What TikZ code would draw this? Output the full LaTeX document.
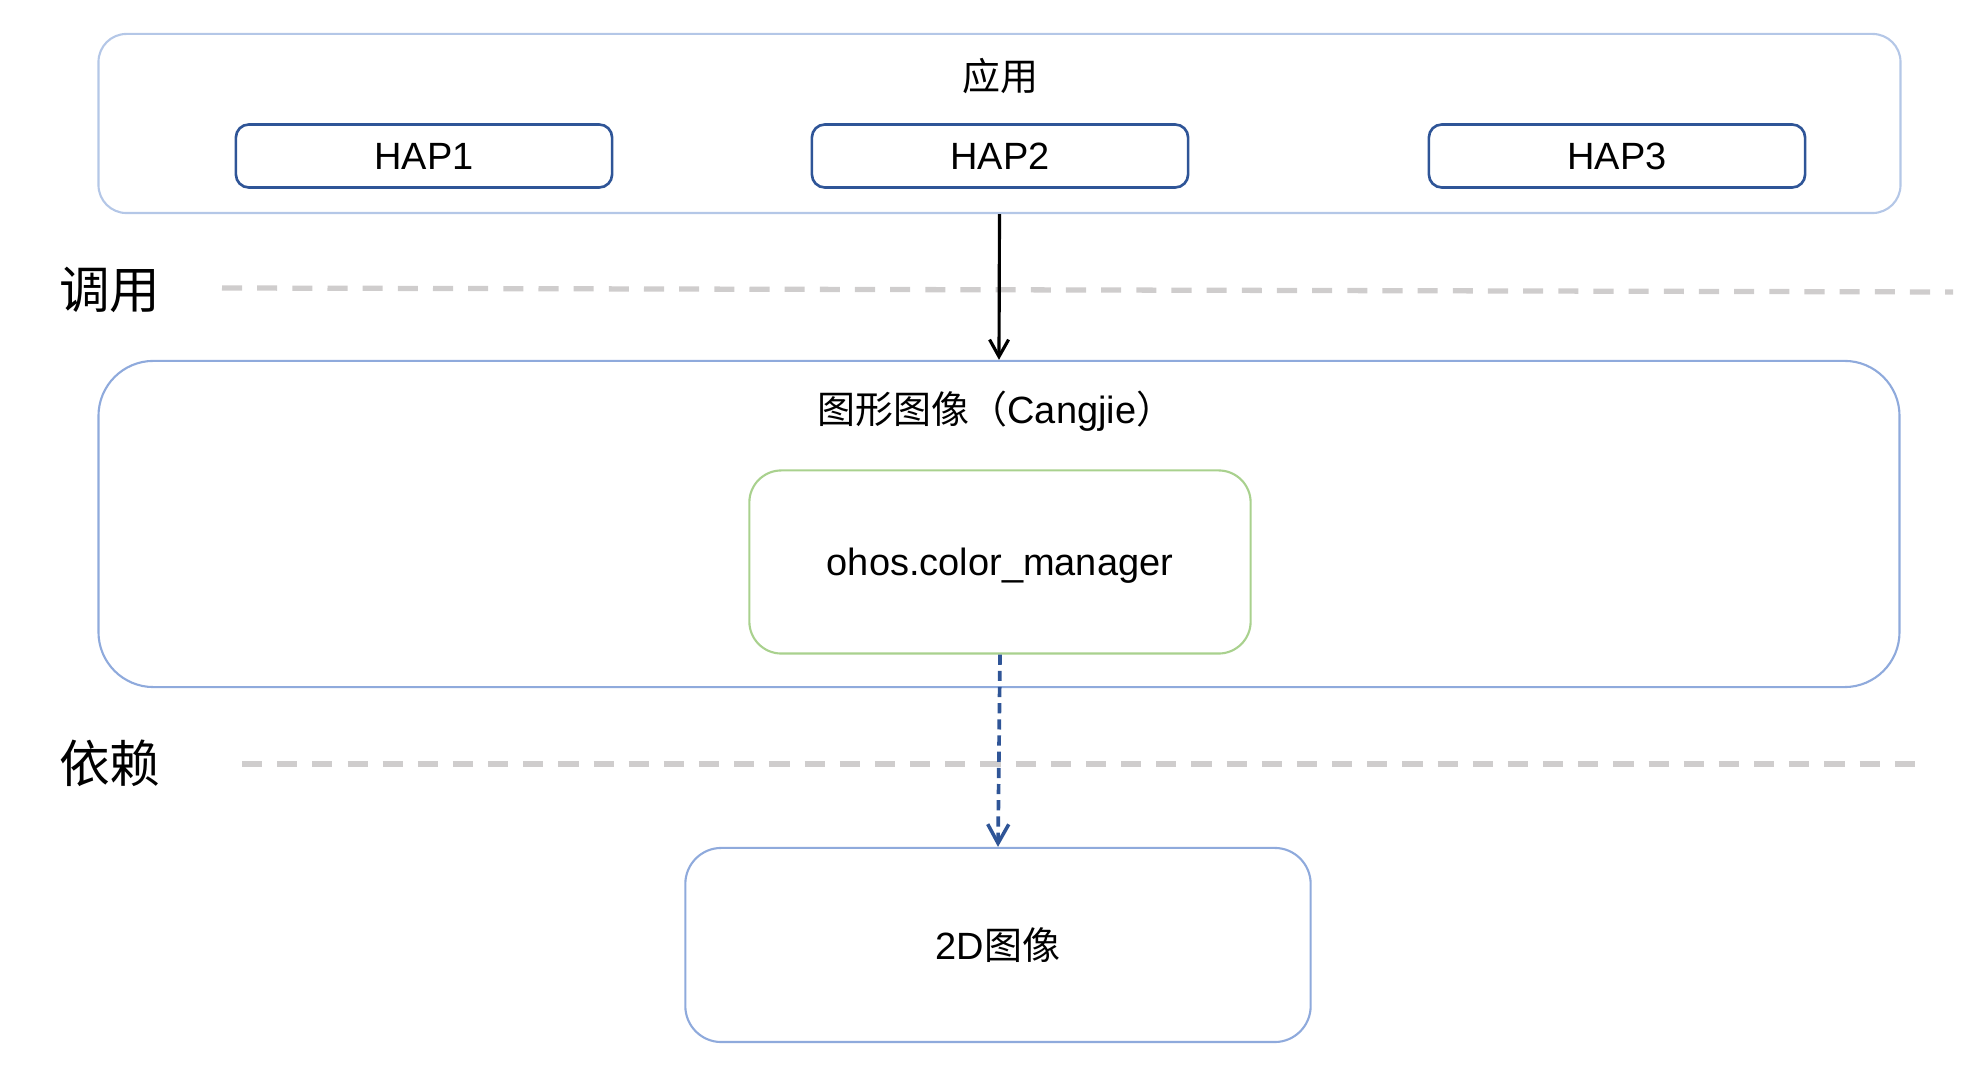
\documentclass[tikz,border=0pt]{standalone}
\usepackage{fontspec}
\setmainfont{Liberation Sans}
\newfontfamily\cjk{Noto Sans CJK SC}
\usetikzlibrary{positioning,arrows.meta}

\definecolor{appline}{HTML}{B4C7E7}
\definecolor{modline}{HTML}{8FAADC}
\definecolor{hapline}{HTML}{2F5597}
\definecolor{cmline}{HTML}{A9D18E}
\definecolor{sepgray}{HTML}{CFCDCD}

\begin{document}
\begin{tikzpicture}[x=0.01cm,y=-0.01cm,
		txt/.style={font=\fontsize{10.8}{13}\selectfont},
		side/.style={font=\cjk\fontsize{14.4}{17}\selectfont},
		frame/.style={draw=#1, line width=0.6pt, inner sep=0pt},
		hapbox/.style={draw=hapline, line width=0.75pt, rounded corners=0.13cm, inner sep=0pt,
			minimum width=3.76cm, minimum height=0.63cm, txt},
		sep/.style={draw=sepgray, line width=1.5pt, dash pattern=on 5.7pt off 4.3pt},
		call/.style={-{Straight Barb[length=1.7mm,width=1.9mm,line width=0.9pt]}, line width=0.9pt},
		dep/.style={-{Straight Barb[length=1.9mm,width=2.1mm,line width=1pt]}, draw=hapline,
			line width=1.05pt, dash pattern=on 2.9pt off 1.7pt}]
	\useasboundingbox (0,0) rectangle (1971,1086);
	
	% Application layer
	\node[frame=appline, rounded corners=0.28cm, minimum width=18.01cm, minimum height=1.79cm] (app) at (999.5,123.5) {};
	\node[txt, font=\cjk\fontsize{10.8}{13}\selectfont] (apptitle) at (1000,76) {应用};
	\node[hapbox] (hap1) at (424,156) {HAP1};
	\node[hapbox] (hap2) at (1000,156) {HAP2};
	\node[hapbox] (hap3) at (1617,156) {HAP3};
	
	% Call separator
	\node[side] (calllbl) at (110,290) {调用};
	\draw[sep] (222,288) -- (1953,292);
	
	% Graphics (Cangjie)
	\node[frame=modline, rounded corners=0.55cm, minimum width=18.0cm, minimum height=3.26cm] (gfx) at (999,524) {};
	\node[txt] (gfxtitle) at (996,411) {{\cjk 图形图像（}Cangjie{\cjk ）}};
	\node[frame=cmline, rounded corners=0.32cm, minimum width=5.01cm, minimum height=1.83cm, txt,
		text depth=0pt] (cm) at (1000,562) {ohos.color\_manager};
	
	% Dependency separator
	\node[side] (deplbl) at (110,763) {依赖};
	\draw[sep] (242,764) -- (1917,764);
	
	% 2D image
	\node[frame=modline, rounded corners=0.36cm, minimum width=6.25cm, minimum height=1.94cm,
		txt] (img) at (998,945) {2D{\cjk 图像}};
	
	% Connectors
	\draw[call] (app.south) -- (gfx.north);
	\draw[dep] (cm.south) -- (img.north);
	
\end{tikzpicture}
\end{document}
